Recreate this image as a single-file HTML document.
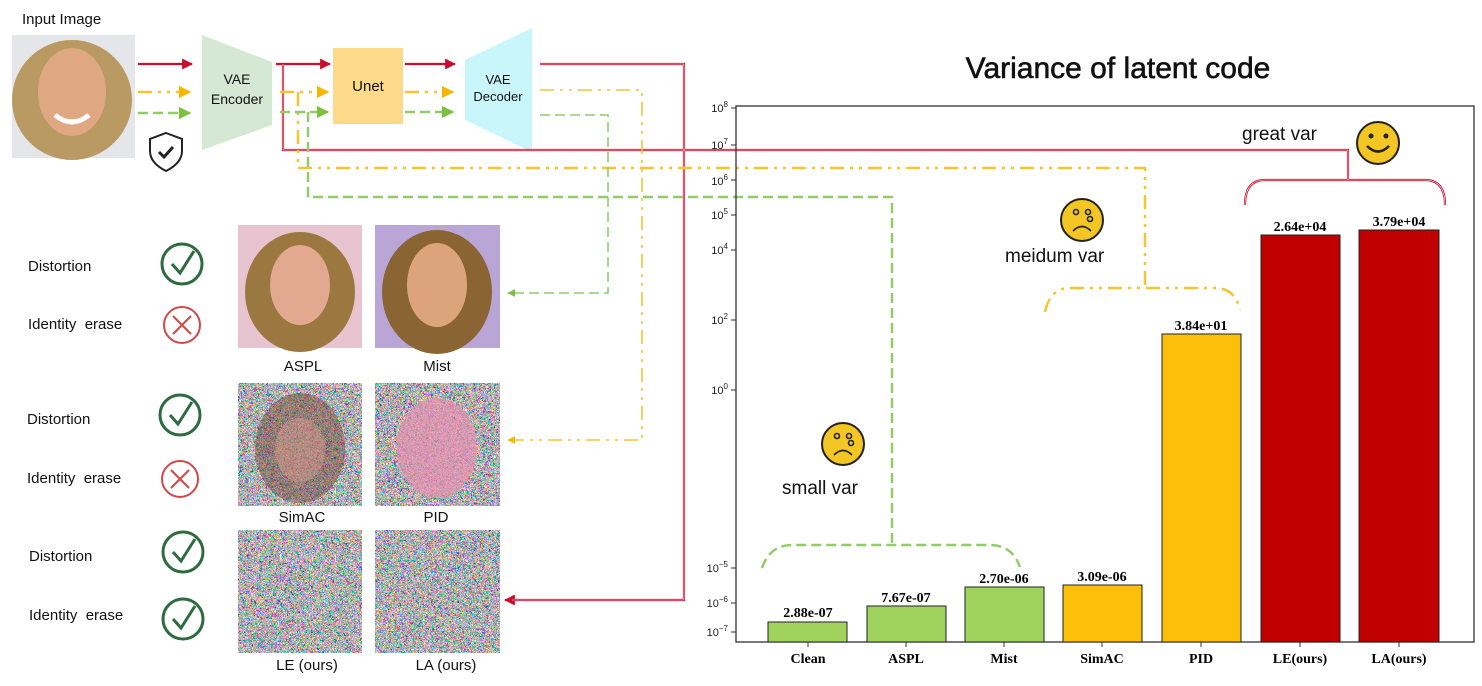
<!DOCTYPE html>
<html><head><meta charset="utf-8"><style>
html,body{margin:0;padding:0;background:#fff;}
svg{display:block;}
.t{font-family:"Liberation Sans",sans-serif;}
.s{font-family:"Liberation Serif",serif;font-weight:bold;}
</style></head><body>
<svg width="1482" height="686" viewBox="0 0 1482 686" xmlns="http://www.w3.org/2000/svg">
<defs>
<filter id="nz" x="0" y="0" width="100%" height="100%">
<feTurbulence type="fractalNoise" baseFrequency="0.35" numOctaves="1" seed="3"/>
<feComponentTransfer><feFuncR type="discrete" tableValues="0.1 1 0.2 0.95 0 1 0.3 0.9 0.1 1 0.2 0.8"/><feFuncG type="discrete" tableValues="0.9 0.1 0.8 0.3 1 0.1 0.7 0.2 0.9 0.3 1 0.2"/><feFuncB type="discrete" tableValues="0.2 0.9 0.1 1 0.3 0.2 1 0.1 0.8 0.2 0.1 1"/><feFuncA type="linear" slope="0" intercept="1"/></feComponentTransfer>
</filter>
<marker id="ar" viewBox="0 0 10 10" refX="9" refY="5" markerWidth="5" markerHeight="5" orient="auto"><path d="M0,0L10,5L0,10z" fill="#c8102e"/></marker>
<marker id="ay" viewBox="0 0 10 10" refX="9" refY="5" markerWidth="5" markerHeight="5" orient="auto"><path d="M0,0L10,5L0,10z" fill="#f5b800"/></marker>
<marker id="ag" viewBox="0 0 10 10" refX="9" refY="5" markerWidth="5" markerHeight="5" orient="auto"><path d="M0,0L10,5L0,10z" fill="#7cc042"/></marker>
</defs>

<text x="22" y="24" class="t" font-size="15" fill="#111">Input Image</text>
<rect x="12" y="35" width="123" height="123" fill="#e4e6ea"/>
<ellipse cx="72" cy="100" rx="60" ry="60" fill="#b99a62"/>
<ellipse cx="72" cy="92" rx="34" ry="44" fill="#e0a882"/>
<path d="M55,115 q17,14 34,0" stroke="#fff" stroke-width="5" fill="none"/>
<path d="M166,133 l16,6 v12 q0,12 -16,20 q-16,-8 -16,-20 v-12z" fill="#fff" stroke="#222" stroke-width="2"/>
<path d="M159,152 l5,5 l9,-10" stroke="#222" stroke-width="3" fill="none"/>

<polygon points="202,35 272,62 272,125 202,150" fill="#d5e8d4"/>
<text x="237" y="84" class="t" font-size="14" text-anchor="middle" fill="#111">VAE</text>
<text x="237" y="104" class="t" font-size="14" text-anchor="middle" fill="#111">Encoder</text>
<rect x="333" y="48" width="70" height="76" fill="#fdd98a"/>
<text x="368" y="91" class="t" font-size="15" text-anchor="middle" fill="#111">Unet</text>
<polygon points="465,60 532,28 532,152 465,120" fill="#c9f6fb"/>
<text x="498" y="84" class="t" font-size="13" text-anchor="middle" fill="#111">VAE</text>
<text x="498" y="101" class="t" font-size="13" text-anchor="middle" fill="#111">Decoder</text>

<g stroke="#c8102e" stroke-width="2.2" fill="none">
<line x1="138" y1="64" x2="192" y2="64" marker-end="url(#ar)"/>
<line x1="276" y1="64" x2="330" y2="64" marker-end="url(#ar)"/>
<line x1="405" y1="64" x2="455" y2="64" marker-end="url(#ar)"/>
<path d="M283,64 V150 H1348 V180"/>
<path d="M540,64 H684 V600 H505" marker-end="url(#ar)"/>
<path d="M1245,205 q0,-25 20,-25 H1425 q20,0 20,25"/>
</g>
<g stroke="#fff" stroke-width="0.6" fill="none"><path d="M283,64 V150 H1348 V180"/><path d="M540,64 H684 V600 H512"/><path d="M1245,205 q0,-25 20,-25 H1425 q20,0 20,25"/></g>

<g stroke="#f5c431" stroke-width="2.5" fill="none" stroke-dasharray="14,6,3,6,3,6">
<line x1="138" y1="92" x2="190" y2="92" marker-end="url(#ay)"/>
<line x1="280" y1="92" x2="328" y2="92" marker-end="url(#ay)"/>
<line x1="405" y1="92" x2="453" y2="92" marker-end="url(#ay)"/>
<path d="M540,90 H642 V440 H508" marker-end="url(#ay)" stroke-width="1.6"/>
<path d="M298,92 V168 H1145 V288"/>
<path d="M1045,312 q5,-24 25,-24 H1215 q20,0 25,22"/>
</g>
<g stroke="#92cc6a" stroke-width="2.5" fill="none" stroke-dasharray="10,5">
<line x1="138" y1="113" x2="190" y2="113" marker-end="url(#ag)"/>
<line x1="280" y1="112" x2="328" y2="112" marker-end="url(#ag)"/>
<line x1="405" y1="112" x2="453" y2="112" marker-end="url(#ag)"/>
<path d="M540,115 H608 V293 H508" marker-end="url(#ag)" stroke-width="1.6"/>
<path d="M308,112 V197 H892 V545"/>
<path d="M762,568 q8,-23 30,-23 H990 q22,0 30,22"/>
</g>

<g class="t" font-size="15" fill="#111">
<text x="28" y="271">Distortion</text><text x="28" y="329">Identity&#160; erase</text>
<text x="27" y="424">Distortion</text><text x="27" y="483">Identity&#160; erase</text>
<text x="29" y="561">Distortion</text><text x="29" y="620">Identity&#160; erase</text>
</g>
<g fill="none" stroke-width="3">
<circle cx="182" cy="264" r="20" stroke="#2e6b3f"/><path d="M172,264 l8,9 l14,-22" stroke="#2e6b3f"/>
<circle cx="182" cy="325" r="18" stroke="#d04848" stroke-width="2"/><path d="M173,316 l18,18 M191,316 l-18,18" stroke="#d04848" stroke-width="2"/>
<circle cx="180" cy="415" r="20" stroke="#2e6b3f"/><path d="M170,415 l8,9 l14,-22" stroke="#2e6b3f"/>
<circle cx="180" cy="479" r="18" stroke="#d04848" stroke-width="2"/><path d="M171,470 l18,18 M189,470 l-18,18" stroke="#d04848" stroke-width="2"/>
<circle cx="183" cy="552" r="20" stroke="#2e6b3f"/><path d="M173,552 l8,9 l14,-22" stroke="#2e6b3f"/>
<circle cx="183" cy="619" r="20" stroke="#2e6b3f"/><path d="M173,619 l8,9 l14,-22" stroke="#2e6b3f"/>
</g>
<rect x="238" y="225" width="124" height="123" fill="#e8c3d0"/>
<ellipse cx="300" cy="292" rx="55" ry="60" fill="#9a7840"/><ellipse cx="300" cy="285" rx="30" ry="40" fill="#e2a890"/>
<rect x="375" y="225" width="125" height="123" fill="#b9a6d6"/>
<ellipse cx="437" cy="292" rx="55" ry="62" fill="#8a6432"/><ellipse cx="437" cy="285" rx="30" ry="42" fill="#dca47a"/>
<rect x="238" y="383" width="124" height="123" filter="url(#nz)"/>
<ellipse cx="300" cy="448" rx="45" ry="55" fill="#704030" opacity="0.45"/>
<ellipse cx="300" cy="450" rx="25" ry="32" fill="#e8a090" opacity="0.4"/>
<rect x="375" y="383" width="125" height="123" filter="url(#nz)"/>
<ellipse cx="437" cy="448" rx="40" ry="50" fill="#e890b0" opacity="0.7"/>
<rect x="238" y="530" width="124" height="123" filter="url(#nz)"/>
<rect x="375" y="530" width="125" height="123" filter="url(#nz)"/>
<g class="t" font-size="15" fill="#111" text-anchor="middle">
<text x="303" y="371">ASPL</text><text x="437" y="371">Mist</text>
<text x="302" y="522">SimAC</text><text x="436" y="522">PID</text>
<text x="307" y="670">LE (ours)</text><text x="446" y="670">LA (ours)</text>
</g>

<text x="1118" y="78" class="t" font-size="30" text-anchor="middle" fill="#111" stroke="#111" stroke-width="0.6">Variance of latent code</text>
<rect x="736" y="106" width="738" height="536" fill="none" stroke="#333" stroke-width="1.3"/>
<g class="s" font-size="14" fill="#000" text-anchor="middle">
<rect x="768" y="622" width="79" height="20" fill="#9fd35d" stroke="#222"/><text x="808" y="617">2.88e-07</text>
<rect x="867" y="606" width="79" height="36" fill="#9fd35d" stroke="#222"/><text x="906" y="602">7.67e-07</text>
<rect x="965" y="587" width="79" height="55" fill="#9fd35d" stroke="#222"/><text x="1004" y="583">2.70e-06</text>
<rect x="1063" y="585" width="79" height="57" fill="#fcbf0a" stroke="#222"/><text x="1102" y="581">3.09e-06</text>
<rect x="1162" y="334" width="79" height="308" fill="#fcbf0a" stroke="#222"/><text x="1201" y="330">3.84e+01</text>
<rect x="1261" y="235" width="79" height="407" fill="#c00000" stroke="#222"/><text x="1300" y="231">2.64e+04</text>
<rect x="1359" y="230" width="80" height="412" fill="#c00000" stroke="#222"/><text x="1399" y="226">3.79e+04</text>
<text x="808" y="663">Clean</text><text x="906" y="663">ASPL</text><text x="1004" y="663">Mist</text><text x="1102" y="663">SimAC</text><text x="1201" y="663">PID</text><text x="1300" y="663">LE(ours)</text><text x="1399" y="663">LA(ours)</text>
</g>
<g stroke="#333" stroke-width="1">
<line x1="731" y1="108" x2="736" y2="108"/><line x1="731" y1="145" x2="736" y2="145"/><line x1="731" y1="180" x2="736" y2="180"/><line x1="731" y1="215" x2="736" y2="215"/><line x1="731" y1="250" x2="736" y2="250"/><line x1="731" y1="320" x2="736" y2="320"/><line x1="731" y1="390" x2="736" y2="390"/><line x1="731" y1="568" x2="736" y2="568"/><line x1="731" y1="603" x2="736" y2="603"/><line x1="731" y1="632" x2="736" y2="632"/>
<line x1="808" y1="642" x2="808" y2="647"/><line x1="906" y1="642" x2="906" y2="647"/><line x1="1004" y1="642" x2="1004" y2="647"/><line x1="1102" y1="642" x2="1102" y2="647"/><line x1="1201" y1="642" x2="1201" y2="647"/><line x1="1300" y1="642" x2="1300" y2="647"/><line x1="1399" y1="642" x2="1399" y2="647"/>
</g>
<g class="t" font-size="11" fill="#222" text-anchor="end">
<text x="728" y="112">10<tspan font-size="8" dy="-5">8</tspan></text>
<text x="728" y="149">10<tspan font-size="8" dy="-5">7</tspan></text>
<text x="728" y="185">10<tspan font-size="8" dy="-5">6</tspan></text>
<text x="728" y="219">10<tspan font-size="8" dy="-5">5</tspan></text>
<text x="728" y="254">10<tspan font-size="8" dy="-5">4</tspan></text>
<text x="728" y="324">10<tspan font-size="8" dy="-5">2</tspan></text>
<text x="728" y="394">10<tspan font-size="8" dy="-5">0</tspan></text>
<text x="728" y="572">10<tspan font-size="8" dy="-5">−5</tspan></text>
<text x="728" y="607">10<tspan font-size="8" dy="-5">−6</tspan></text>
<text x="728" y="636">10<tspan font-size="8" dy="-5">−7</tspan></text>
</g>

<g class="t" font-size="19" fill="#111">
<text x="1242" y="140">great var</text>
<text x="1005" y="262">meidum var</text>
<text x="782" y="494">small var</text>
</g>
<g stroke="#222" stroke-width="2">
<circle cx="1378" cy="143" r="21" fill="#f3c623"/>
<circle cx="1082" cy="220" r="21" fill="#f3c623"/>
<circle cx="843" cy="444" r="21" fill="#f3c623"/>
</g>
<g fill="#222"><circle cx="1371" cy="136" r="2.5"/><circle cx="1386" cy="136" r="2.5"/></g>
<path d="M1367,146 q11,11 22,0" stroke="#222" stroke-width="2.5" fill="none"/>
<g fill="none" stroke="#222" stroke-width="1.6">
<circle cx="1076" cy="212" r="2.5"/><circle cx="1088" cy="212" r="2.5"/><circle cx="1090" cy="219" r="2.5"/>
<path d="M1073,231 q9,-9 18,0"/>
<circle cx="837" cy="436" r="2.5"/><circle cx="849" cy="436" r="2.5"/><circle cx="851" cy="443" r="2.5"/>
<path d="M834,455 q9,-9 18,0"/>
</g>
</svg>
</body></html>
